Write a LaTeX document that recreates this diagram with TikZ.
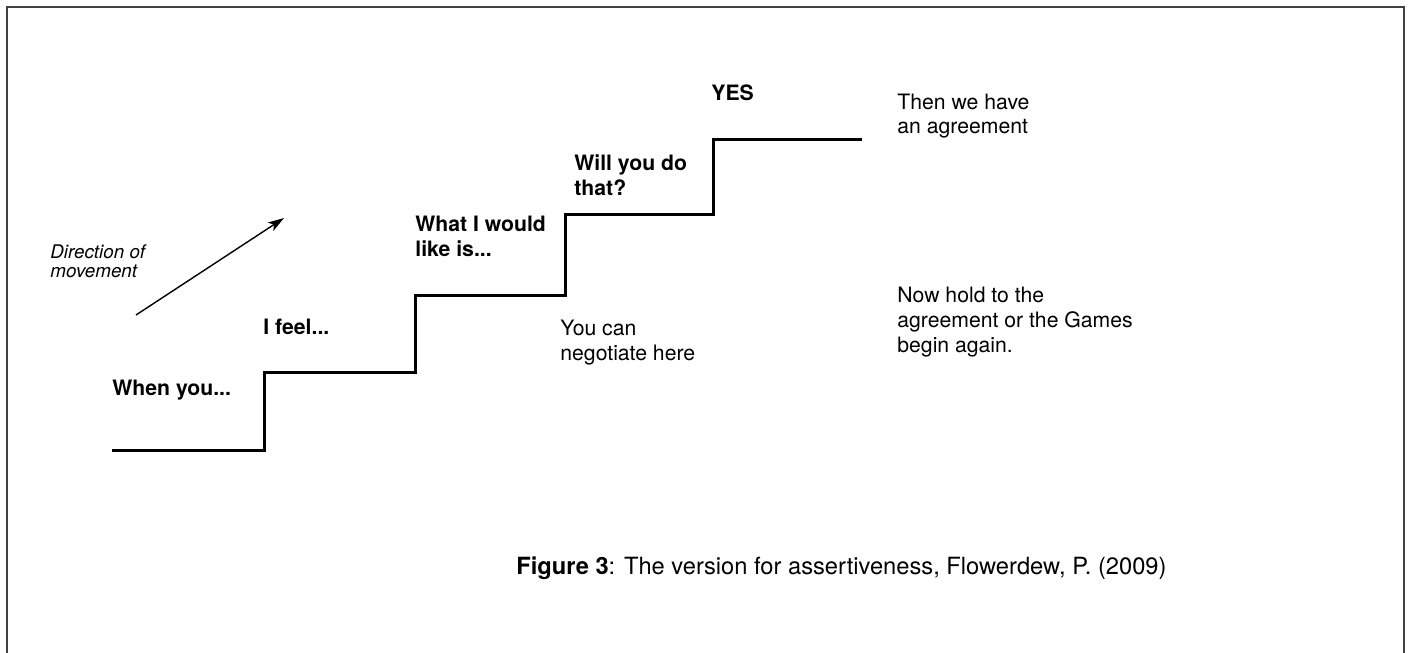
\documentclass[tikz,border=0pt]{standalone}
\usepackage{fontspec}
\setmainfont{TeX Gyre Heros}
\usetikzlibrary{arrows.meta}
\newcommand{\twolines}[1]{\begin{tabular}[t]{@{}l@{}}#1\end{tabular}}
\begin{document}
\begin{tikzpicture}[x=0.5pt,y=-0.5pt,
  lbl/.style={anchor=base west, inner sep=0pt, font=\fontsize{10.6}{12.5}\selectfont},
  boldlbl/.style={anchor=base west, inner sep=0pt, font=\fontsize{10.6}{12.5}\selectfont\bfseries},
  note/.style={anchor=base west, inner sep=0pt, font=\fontsize{9.4}{9.8}\selectfont\itshape},
  caption/.style={anchor=base west, inner sep=0pt, font=\fontsize{11.85}{14}\selectfont},
  stairs/.style={line width=1.5pt, line join=miter},
  frame/.style={draw=black!75, line width=1.2pt},
  arrowline/.style={line width=0.7pt, -{Stealth[length=8pt,width=5pt,inset=2pt]}}
]
\useasboundingbox (0,0) rectangle (1410,653);
% outer frame (open at the bottom edge of the page)
\draw[frame] (7,680) -- (7,7) -- (1404,7) -- (1404,680);

% the staircase
\draw[stairs] (112,450) -| (264,372) -| (415,295) -| (565,214) -| (713,139) -- (862,139);

% direction arrow
\coordinate (dirA) at (136,315);
\coordinate (dirB) at (284,218);
\draw[arrowline] (dirA) -- (dirB);
\node[note] (dir) at (50,258) {\twolines{Direction of\\movement}};

% step labels
\node[boldlbl] (when) at (112,395) {When you...};
\node[boldlbl] (feel) at (263,334) {I feel...};
\node[boldlbl] (what) at (415,231) {\twolines{What I would\\like is...}};
\node[boldlbl] (will) at (574,170) {\twolines{Will you do\\that?}};
\node[boldlbl] (yes) at (711,100) {YES};

% side notes
\node[lbl] (agree) at (897,109) {\twolines{Then we have\\an agreement}};
\node[lbl] (nego) at (560,335) {\twolines{You can\\negotiate here}};
\node[lbl] (hold) at (897,302) {\twolines{Now hold to the\\agreement or the Games\\begin again.}};

% caption
\node[caption] (cap) at (516,574) {\textbf{Figure 3}: The version for assertiveness, Flowerdew, P. (2009)};
\end{tikzpicture}
\end{document}
